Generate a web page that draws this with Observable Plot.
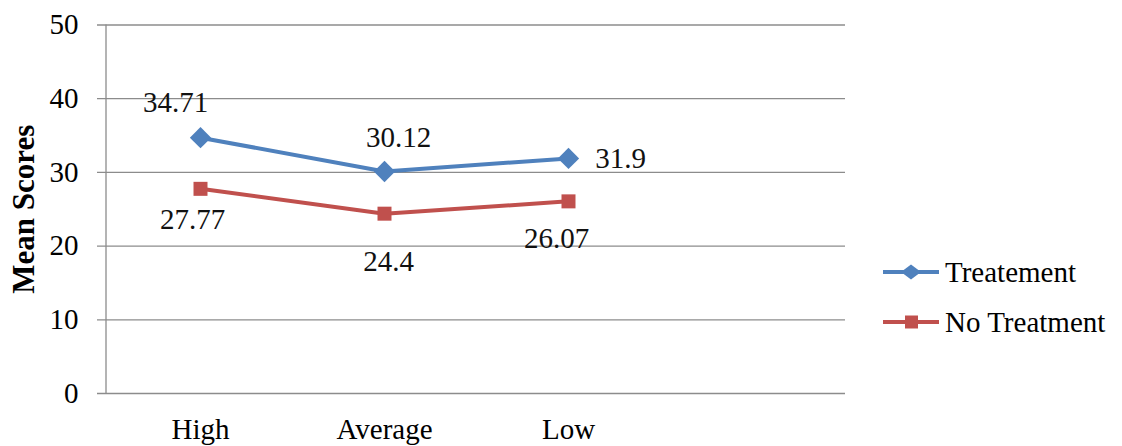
<!DOCTYPE html>
<html>
<head>
<meta charset="utf-8">
<script src="https://cdn.jsdelivr.net/npm/d3@7"></script>
<script src="https://cdn.jsdelivr.net/npm/@observablehq/plot@0.6"></script>
<style>
  html, body { margin: 0; padding: 0; background: #fff; }
  #chart { position: relative; width: 1122px; height: 446px; font-family: "Liberation Serif", "Times New Roman", serif; }
  #legend { position: absolute; left: 883px; top: 247px; font-size: 29px; color: #000; }
  #legend .row { display: flex; align-items: center; height: 50px; }
  #legend svg { margin-right: 6px; }
</style>
</head>
<body>
<div id="chart"></div>
<script>
// Mean scores by achievement level, with and without treatment
const categories = ["High", "Average", "Low"];
const treatment = [34.71, 30.12, 31.9];
const noTreatment = [27.77, 24.4, 26.07];
const seriesNames = ["Treatement", "No Treatment"];
const seriesColors = ["#4F81BD", "#C0504D"];
const yTicks = [0, 10, 20, 30, 40, 50];
const yDomain = [0, 50];

const rows = categories.flatMap((category, i) => [
  {category, series: seriesNames[0], value: treatment[i]},
  {category, series: seriesNames[1], value: noTreatment[i]}
]);
const bySeries = name => rows.filter(d => d.series === name);

// one data label, nudged away from its marker
const label = (series, category, dx, dy) =>
  Plot.text(rows.filter(d => d.series === series && d.category === category), {
    x: "category", y: "value", text: d => String(d.value),
    dx, dy, fontSize: 29, fill: "#111"
  });

const chart = Plot.plot({
  width: 1122,
  height: 446,
  marginLeft: 106,
  marginRight: 277,
  marginTop: 24.5,
  marginBottom: 53,
  style: {fontFamily: "'Liberation Serif', 'Times New Roman', serif", fontSize: "29px", color: "#000", background: "#fff"},
  x: {type: "point", domain: [...categories, ""], padding: 0.5, tickSize: 0, tickPadding: 25, label: null},
  y: {domain: yDomain, ticks: yTicks, tickSize: 0, tickPadding: 28, label: null},
  marks: [
    // horizontal gridlines, extended slightly left of the value axis
    Plot.ruleY(yTicks, {stroke: "#8c8c8c", strokeWidth: 1.3, insetLeft: -9}),
    // vertical value axis line
    (index, scales, values, dims) => {
      const line = d3.create("svg:line")
        .attr("x1", dims.marginLeft).attr("x2", dims.marginLeft)
        .attr("y1", scales.y(yDomain[0])).attr("y2", scales.y(yDomain[1]))
        .attr("stroke", "#8c8c8c").attr("stroke-width", 1.3);
      return line.node();
    },
    // value axis title, centred on the axis
    Plot.text([d3.mean(yDomain)], {
      y: d => d, frameAnchor: "left", textAnchor: "middle", text: () => "Mean Scores",
      rotate: -90, dx: -82, fontWeight: "bold", fontSize: 31, fill: "#000"
    }),
    Plot.line(bySeries(seriesNames[0]), {x: "category", y: "value", stroke: seriesColors[0], strokeWidth: 4}),
    Plot.line(bySeries(seriesNames[1]), {x: "category", y: "value", stroke: seriesColors[1], strokeWidth: 4}),
    Plot.dot(bySeries(seriesNames[0]), {x: "category", y: "value", symbol: "diamond2", r: 9.6, fill: seriesColors[0], stroke: "none"}),
    Plot.dot(bySeries(seriesNames[1]), {x: "category", y: "value", symbol: "square", r: 7.9, fill: seriesColors[1], stroke: "none"}),
    label(seriesNames[0], "High", -25, -35),
    label(seriesNames[0], "Average", 14, -34),
    label(seriesNames[0], "Low", 52, 0),
    label(seriesNames[1], "High", -8, 31),
    label(seriesNames[1], "Average", 4, 48),
    label(seriesNames[1], "Low", -12, 37)
  ]
});

const container = document.getElementById("chart");
container.appendChild(chart);

// legend on the right of the plot
const legend = document.createElement("div");
legend.id = "legend";
const markerPaths = [
  "M28,2.5 L38,10 L28,17.5 L18,10 Z",
  "M22,3.5 H35 V16.5 H22 Z"
];
seriesNames.forEach((name, i) => {
  const row = document.createElement("div");
  row.className = "row";
  row.innerHTML =
    `<svg width="56" height="20" viewBox="0 0 56 20">` +
    `<line x1="0" x2="56" y1="10" y2="10" stroke="${seriesColors[i]}" stroke-width="4"/>` +
    `<path d="${markerPaths[i]}" fill="${seriesColors[i]}"/></svg>` +
    `<span>${name}</span>`;
  legend.appendChild(row);
});
container.appendChild(legend);
</script>
</body>
</html>
